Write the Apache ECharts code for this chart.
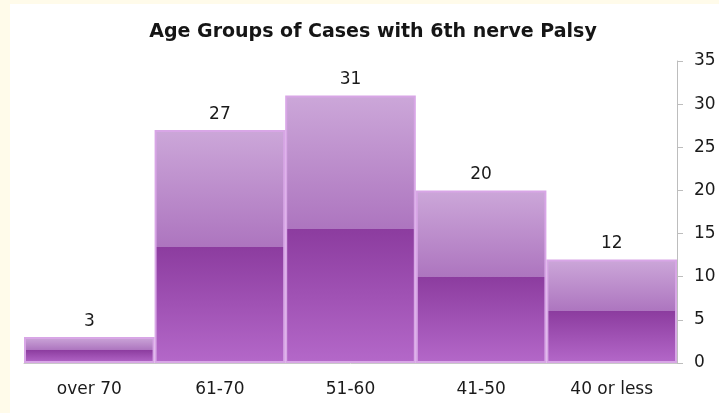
<!DOCTYPE html>
<html>
<head>
<meta charset="utf-8">
<script src="https://cdn.jsdelivr.net/npm/echarts@6/dist/echarts.min.js"></script>
<style>
  html, body { margin: 0; padding: 0; background: #fffbea; }
  #chart { width: 719px; height: 413px; }
</style>
</head>
<body>
<div id="chart"></div>
<script>
// Age groups and number of cases in each
const ageGroups = ['over 70', '61-70', '51-60', '41-50', '40 or less'];
const caseCounts = [3, 27, 31, 20, 12];
const yTicks = { min: 0, max: 35, step: 5 };

const FONT = '"DejaVu Sans", "Noto Sans", sans-serif';

// Two-tone glossy purple fill: lighter upper half, deeper lower half
const barFill = new echarts.graphic.LinearGradient(0, 0, 0, 1, [
  { offset: 0, color: '#cca7d9' },
  { offset: 0.5, color: '#ad75bf' },
  { offset: 0.5, color: '#8c3c9f' },
  { offset: 1, color: '#b468c9' }
]);

const chart = echarts.init(document.getElementById('chart'), null, { renderer: 'canvas' });

chart.setOption({
  backgroundColor: '#fffbea',
  animation: false,
  graphic: [{
    type: 'rect',
    z: -10,
    silent: true,
    shape: { x: 10, y: 4, width: 720, height: 420 },
    style: { fill: '#ffffff' }
  }],
  title: {
    text: 'Age Groups of Cases with 6th nerve Palsy',
    left: 368,
    top: 18,
    textAlign: 'center',
    textStyle: { fontFamily: FONT, fontSize: 19, fontWeight: 'bold', color: '#151515' }
  },
  grid: { left: 24, right: 42, top: 61, bottom: 50 },
  xAxis: {
    type: 'category',
    data: ageGroups,
    axisLine: { show: true, lineStyle: { color: '#c8c8c8', width: 1 } },
    axisTick: { show: false },
    axisLabel: { fontFamily: FONT, fontSize: 17, color: '#1a1a1a', margin: 18 }
  },
  yAxis: {
    type: 'value',
    position: 'right',
    min: yTicks.min,
    max: yTicks.max,
    interval: yTicks.step,
    splitLine: { show: false },
    axisLine: { show: true, lineStyle: { color: '#bdbdbd', width: 1 } },
    axisTick: { show: true, length: 6, lineStyle: { color: '#bdbdbd' } },
    axisLabel: { fontFamily: FONT, fontSize: 17, color: '#1a1a1a', margin: 17 }
  },
  series: [{
    type: 'bar',
    data: caseCounts,
    barCategoryGap: '0%',
    itemStyle: {
      color: barFill,
      borderColor: '#d8a6e6',
      borderWidth: 2
    },
    label: {
      show: true,
      position: 'top',
      distance: 7,
      fontFamily: FONT,
      fontSize: 17,
      color: '#1a1a1a'
    }
  }]
});
</script>
</body>
</html>
